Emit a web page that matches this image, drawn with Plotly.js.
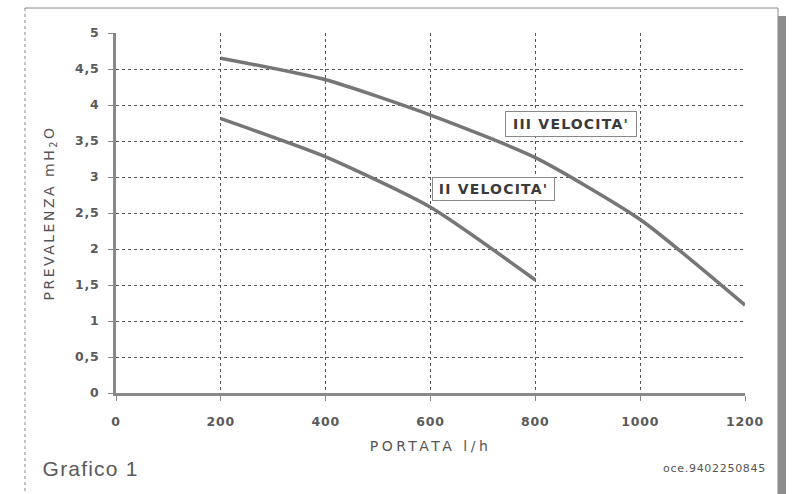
<!DOCTYPE html>
<html>
<head>
<meta charset="utf-8">
<script src="https://cdn.plot.ly/plotly-3.0.1.min.js"></script>
<style>
html,body{margin:0;padding:0;background:#fff;}
#chart{width:796px;height:494px;}
</style>
</head>
<body>
<div id="chart"></div>
<script>
const portata = [200, 400, 600, 800, 1000, 1200];
const velocita3 = [4.65, 4.35, 3.86, 3.27, 2.41, 1.22];
const portata2 = [200, 400, 600, 800];
const velocita2 = [3.81, 3.28, 2.58, 1.57];
const xTicks = [0, 200, 400, 600, 800, 1000, 1200];
const xTickText = ['0', '200', '400', '600', '800', '1000', '1200'];
const yTicks = [0, 0.5, 1, 1.5, 2, 2.5, 3, 3.5, 4, 4.5, 5];
const yTickText = ['0', '0,5', '1', '1,5', '2', '2,5', '3', '3,5', '4', '4,5', '5'];
const labels = ["III VELOCITA'", "II VELOCITA'"];

const lineStyle = {color: '#767676', width: 3.5, shape: 'spline', smoothing: 0.6};
const data = [
  {x: portata, y: velocita3, type: 'scatter', mode: 'lines', line: lineStyle, name: labels[0], hoverinfo: 'none'},
  {x: portata2, y: velocita2, type: 'scatter', mode: 'lines', line: lineStyle, name: labels[1], hoverinfo: 'none'}
];

const wide = 'DejaVu Sans, Verdana, sans-serif';
const tickFont = {family: wide, size: 12.5, color: '#5a5a5a', weight: 'bold'};
const annFont = {family: wide, size: 14, color: '#3a3a3a', weight: 'bold'};
const layout = {
  width: 796, height: 494,
  margin: {l: 116, r: 51, t: 33, b: 101},
  paper_bgcolor: '#fff', plot_bgcolor: '#fff',
  showlegend: false,
  font: {family: wide, color: '#555'},
  xaxis: {
    range: [0, 1200], tickvals: xTicks, ticktext: xTickText,
    showgrid: true, gridcolor: '#555', griddash: 'dot', gridwidth: 1,
    showline: true, linecolor: '#888', linewidth: 3,
    zeroline: false,
    ticks: 'outside', ticklen: 5, tickcolor: '#888', tickwidth: 1,
    tickfont: tickFont, ticklabelstandoff: 10,
    title: {text: 'PORTATA l/h', font: {family: wide, size: 14, color: '#555'}, standoff: 14}
  },
  yaxis: {
    range: [0, 5], tickvals: yTicks, ticktext: yTickText,
    showgrid: true, gridcolor: '#555', griddash: 'dot', gridwidth: 1,
    showline: true, linecolor: '#888', linewidth: 3,
    zeroline: false,
    ticks: 'outside', ticklen: 5, tickcolor: '#888', tickwidth: 1,
    tickfont: tickFont, ticklabelstandoff: 6,
    title: {text: 'PREVALENZA mH<sub>2</sub>O', font: {family: wide, size: 14, color: '#555'}, standoff: 20}
  },
  annotations: [
    {x: 868, y: 3.736, xref: 'x', yref: 'y', text: labels[0], showarrow: false,
     font: annFont, width: 124, height: 18,
     bgcolor: '#fff', bordercolor: '#888', borderwidth: 1, borderpad: 3},
    {x: 720, y: 2.833, xref: 'x', yref: 'y', text: labels[1], showarrow: false,
     font: annFont, width: 115, height: 16,
     bgcolor: '#fff', bordercolor: '#888', borderwidth: 1, borderpad: 3},
    {x: -0.0405, y: -0.211, xref: 'paper', yref: 'paper', xanchor: 'center', yanchor: 'middle',
     text: 'Grafico 1', showarrow: false, font: {family: 'Liberation Sans, Arial, sans-serif', size: 21, color: '#5a5a5a'}},
    {x: 0.9515, y: -0.211, xref: 'paper', yref: 'paper', xanchor: 'center', yanchor: 'middle',
     text: 'oce.9402250845', showarrow: false, font: {family: wide, size: 11, color: '#555'}}
  ],
  shapes: [
    {type: 'line', xref: 'paper', yref: 'paper', x0: -0.1447, x1: -0.1447, y0: 1.0694, y1: -0.4, line: {color: '#888', width: 1, dash: 'dot'}},
    {type: 'line', xref: 'paper', yref: 'paper', x0: -0.1447, x1: 1.0525, y0: 1.0694, y1: 1.0694, line: {color: '#888', width: 1}},
    {type: 'line', xref: 'paper', yref: 'paper', x0: 1.0525, x1: 1.0525, y0: 1.0694, y1: -0.4, line: {color: '#888', width: 1}},
    {type: 'rect', xref: 'paper', yref: 'paper', x0: 1.0525, x1: 1.0652, y0: 1.047, y1: -0.4, line: {width: 0}, fillcolor: '#8c8c8c'}
  ]
};

function spacing() {
  const set = (sel, v) => document.querySelectorAll(sel).forEach(el => el.style.letterSpacing = v);
  set('#chart .xtitle', '3.5px');
  set('#chart .ytitle', '2.5px');
  set('#chart .xtick text, #chart .ytick text', '0.8px');
  document.querySelectorAll('#chart .annotation-text').forEach(el => {
    const t = el.textContent;
    if (t.indexOf('VELOCITA') >= 0) el.style.letterSpacing = '1.2px';
    else if (t.indexOf('Grafico') >= 0) el.style.letterSpacing = '1.2px';
    else el.style.letterSpacing = '0.7px';
  });
}

Plotly.newPlot('chart', data, layout, {staticPlot: true, displayModeBar: false}).then(spacing);
</script>
</body>
</html>
